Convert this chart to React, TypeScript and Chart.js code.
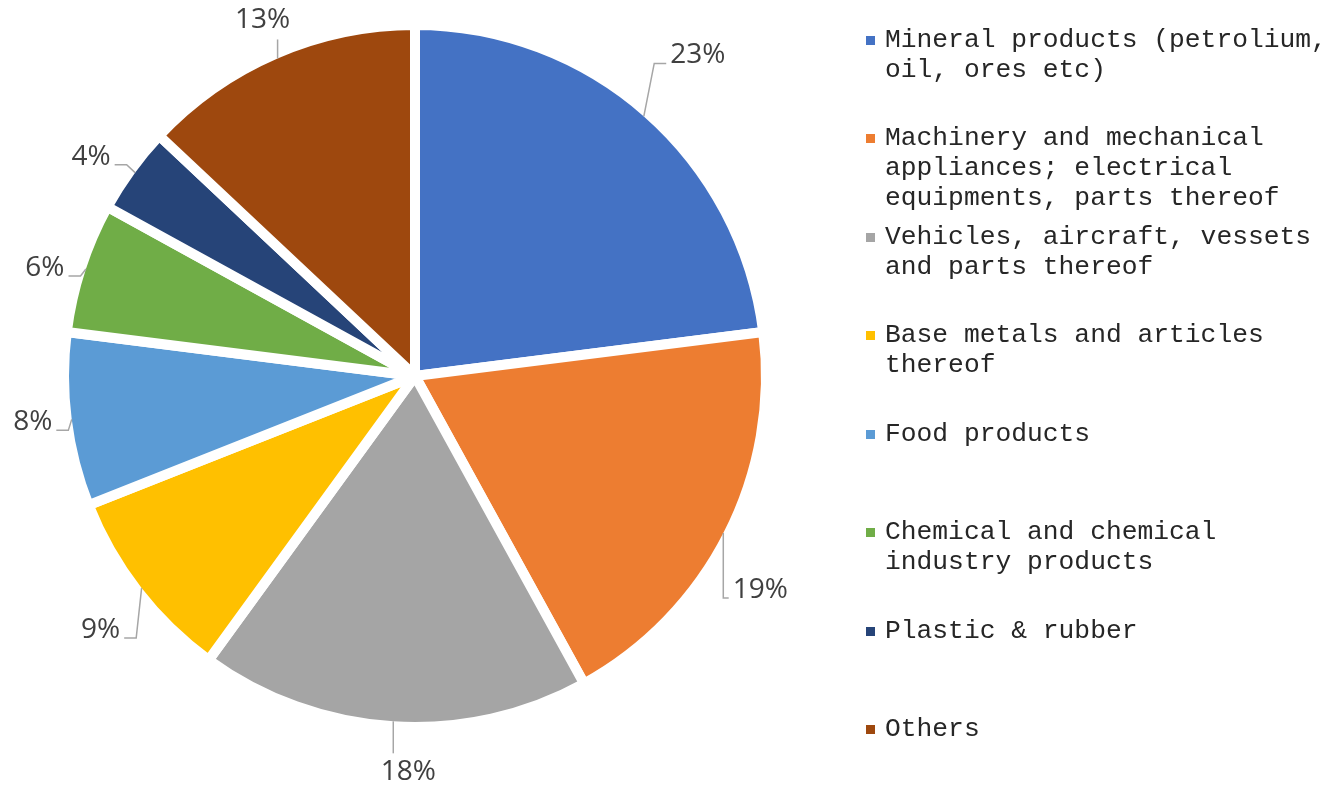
import React, { useEffect, useRef } from "react";
import { Chart, registerables } from "chart.js";

Chart.register(...registerables);

const categories = [
  "Mineral products (petrolium, oil, ores etc)",
  "Machinery and mechanical appliances; electrical equipments, parts thereof",
  "Vehicles, aircraft, vessets and parts thereof",
  "Base metals and articles thereof",
  "Food products",
  "Chemical and chemical industry products",
  "Plastic & rubber",
  "Others",
];
const shares = [23, 19, 18, 9, 8, 6, 4, 13];
const colors = ["#4472C4", "#ED7D31", "#A5A5A5", "#FFC000", "#5B9BD5", "#70AD47", "#264478", "#9E480E"];

// label placement relative to each slice's outer mid point (layout, not data)
const labelOffsets: [number, number][] = [
  [54, -61], [37, 57], [15, 51], [-41, 42], [-39, 3], [-41, -1], [-44, -16], [-15, -38],
];

const BORDER = 10;

const labelPlugin = {
  id: "pctLabels",
  afterDatasetsDraw(chart: any) {
    const ctx = chart.ctx;
    const meta = chart.getDatasetMeta(0);
    ctx.save();
    ctx.font = '28px "Open Sans"';
    ctx.textAlign = "center";
    ctx.textBaseline = "middle";
    meta.data.forEach((arc: any, i: number) => {
      const { x, y, startAngle, endAngle, outerRadius } = arc.getProps(
        ["x", "y", "startAngle", "endAngle", "outerRadius"], true);
      const mid = (startAngle + endAngle) / 2;
      const r = outerRadius - BORDER / 2;
      const px = x + r * Math.cos(mid);
      const py = y + r * Math.sin(mid);
      const [ox, oy] = labelOffsets[i];
      const tx = px + ox;
      const ty = py + oy;
      const text = shares[i] + "%";
      const w = ctx.measureText(text).width;
      ctx.strokeStyle = "#A6A6A6";
      ctx.lineWidth = 1.5;
      ctx.beginPath();
      if (Math.abs(oy) > 2 * Math.abs(ox)) {
        ctx.moveTo(px, py);
        ctx.lineTo(px, oy < 0 ? ty + 19 : ty - 19);
      } else {
        const side = ox > 0 ? 1 : -1;
        const endX = tx - side * (w / 2 + 4);
        const endY = ty + 8;
        const elbowX = endX - side * Math.min(12, Math.abs(endX - px));
        ctx.moveTo(endX, endY);
        ctx.lineTo(elbowX, endY);
        ctx.lineTo(px, py);
      }
      ctx.stroke();
      ctx.fillStyle = "#404040";
      ctx.fillText(text, tx, ty);
    });
    ctx.restore();
  },
};

export default function App() {
  const ref = useRef<HTMLCanvasElement | null>(null);
  useEffect(() => {
    if (!ref.current) return;
    const chart = new Chart(ref.current, {
      type: "pie",
      data: {
        labels: categories,
        datasets: [
          {
            data: shares,
            backgroundColor: colors,
            borderColor: "#FFFFFF",
            borderWidth: BORDER,
          },
        ],
      },
      options: {
        animation: false,
        responsive: false,
        devicePixelRatio: 1,
        layout: { padding: { left: 59, right: 573, top: 20, bottom: 55 } },
        plugins: { legend: { display: false }, tooltip: { enabled: false } },
      },
      plugins: [labelPlugin],
    });
    return () => chart.destroy();
  }, []);

  return (
    <div style={{ position: "absolute", left: 0, top: 0, width: 1344, height: 787, background: "#fff" }}>
      <canvas ref={ref} width={1344} height={787} style={{ position: "absolute", left: 0, top: 0, width: 1344, height: 787 }} />
      {categories.map((c, i) => (
        <div
          key={c}
          style={{
            position: "absolute",
            left: 866,
            top: 25 + i * 98.43,
            display: "flex",
            alignItems: "flex-start",
          }}
        >
          <div style={{ width: 9, height: 9, marginTop: 11, background: colors[i], flex: "none" }} />
          <div
            style={{
              marginLeft: 10,
              width: 450,
              fontFamily: '"Liberation Mono", monospace',
              fontSize: 26.3,
              lineHeight: "30px",
              color: "#262626",
            }}
          >
            {c}
          </div>
        </div>
      ))}
    </div>
  );
}
